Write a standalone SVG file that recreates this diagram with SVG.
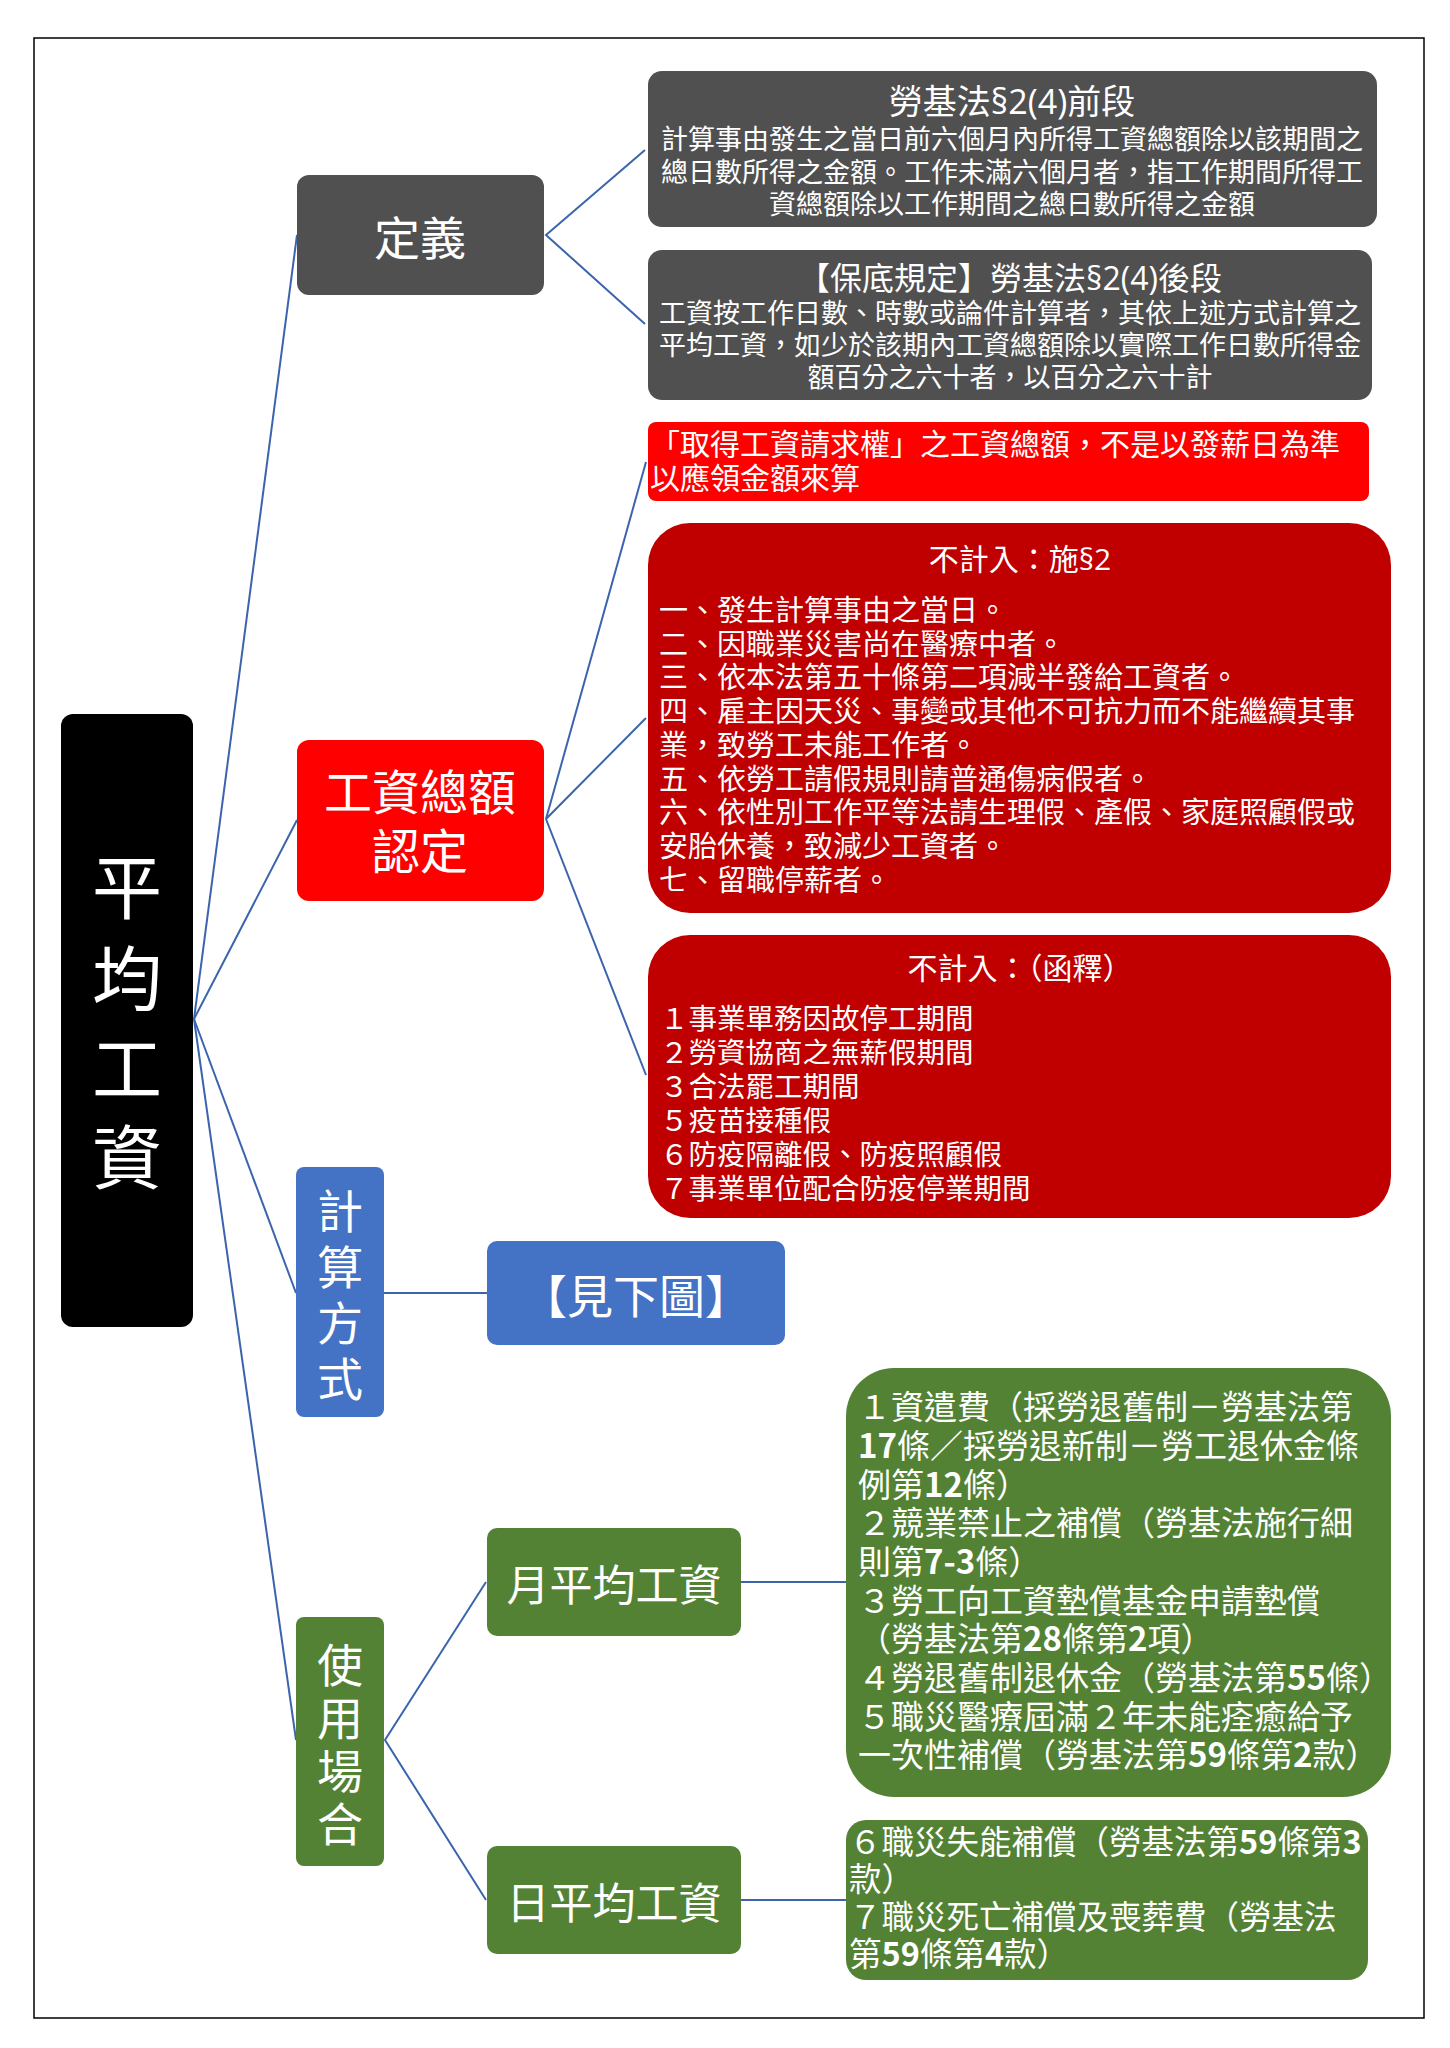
<svg xmlns="http://www.w3.org/2000/svg" width="1450" height="2048" viewBox="0 0 1450 2048">
<style>
text{font-family:"Noto Sans CJK TC","Noto Sans CJK SC",sans-serif;fill:#fff}
.c{text-anchor:middle;dominant-baseline:central}
.m{text-anchor:middle}
.n{font-weight:600}
.l{font-family:"Open Sans","Liberation Sans",sans-serif}
.con{fill:none;stroke:#3B64AD;stroke-width:2}
</style>
<rect x="34" y="38" width="1390" height="1980" fill="#fff" stroke="#000" stroke-width="1.5"/>
<g id="connectors">
<line class="con" x1="194" y1="1019" x2="297" y2="235"/>
<line class="con" x1="194" y1="1019" x2="297" y2="820"/>
<line class="con" x1="194" y1="1019" x2="296" y2="1293"/>
<line class="con" x1="194" y1="1019" x2="296" y2="1740"/>
<polyline class="con" points="645,150 546,235 645,324"/>
<line class="con" x1="546" y1="819" x2="646" y2="462"/>
<line class="con" x1="546" y1="819" x2="646" y2="718"/>
<line class="con" x1="546" y1="819" x2="646" y2="1075"/>
<line class="con" x1="384" y1="1293" x2="487" y2="1293"/>
<polyline class="con" points="486,1582 385,1740 486,1900"/>
<line class="con" x1="741" y1="1582" x2="846" y2="1582"/>
<line class="con" x1="741" y1="1900" x2="846" y2="1900"/>
</g>
<g id="root">
<rect x="61" y="714" width="132" height="613" rx="12" fill="#000"/>
<text class="c" font-size="70"><tspan x="127" y="883">平</tspan><tspan x="127" y="974">均</tspan><tspan x="127" y="1064">工</tspan><tspan x="127" y="1153">資</tspan></text>
</g>
<g id="n-def">
<rect x="297" y="175" width="247" height="120" rx="12" fill="#505050"/>
<text class="c" x="420" y="235" font-size="46">定義</text>
</g>
<g id="n-total">
<rect x="297" y="740" width="247" height="161" rx="12" fill="#FF0000"/>
<text class="c" font-size="48"><tspan x="420" y="789">工資總額</tspan><tspan x="420" y="848">認定</tspan></text>
</g>
<g id="n-calc">
<rect x="296" y="1167" width="88" height="250" rx="8" fill="#4472C4"/>
<text class="c" font-size="46"><tspan x="340" y="1208">計</tspan><tspan x="340" y="1264">算</tspan><tspan x="340" y="1320">方</tspan><tspan x="340" y="1376">式</tspan></text>
</g>
<g id="n-use">
<rect x="296" y="1617" width="88" height="249" rx="8" fill="#548235"/>
<text class="c" font-size="46"><tspan x="340" y="1662">使</tspan><tspan x="340" y="1715">用</tspan><tspan x="340" y="1768">場</tspan><tspan x="340" y="1821">合</tspan></text>
</g>
<g id="n-see">
<rect x="487" y="1241" width="298" height="104" rx="10" fill="#4472C4"/>
<text class="c" x="636" y="1293" font-size="46">【見下圖】</text>
</g>
<g id="n-month">
<rect x="487" y="1528" width="254" height="108" rx="10" fill="#548235"/>
<text class="c" x="614" y="1582" font-size="43">月平均工資</text>
</g>
<g id="n-day">
<rect x="487" y="1846" width="254" height="108" rx="10" fill="#548235"/>
<text class="c" x="614" y="1900" font-size="43">日平均工資</text>
</g>
<g id="n-a">
<rect x="648" y="71" width="729" height="156" rx="14" fill="#505050"/>
<text class="m" font-size="27"><tspan x="1012" y="114" font-size="34">勞基法<tspan class="l">§2(4)</tspan>前段</tspan><tspan x="1012" y="149">計算事由發生之當日前六個月內所得工資總額除以該期間之</tspan><tspan x="1012" y="182">總日數所得之金額。工作未滿六個月者，指工作期間所得工</tspan><tspan x="1012" y="214">資總額除以工作期間之總日數所得之金額</tspan></text>
</g>
<g id="n-b">
<rect x="648" y="250" width="724" height="150" rx="14" fill="#505050"/>
<text class="m" font-size="27"><tspan x="1010" y="290" font-size="32">【保底規定】勞基法<tspan class="l">§2(4)</tspan>後段</tspan><tspan x="1010" y="323">工資按工作日數、時數或論件計算者，其依上述方式計算之</tspan><tspan x="1010" y="355">平均工資，如少於該期內工資總額除以實際工作日數所得金</tspan><tspan x="1010" y="387">額百分之六十者，以百分之六十計</tspan></text>
</g>
<g id="n-c">
<rect x="648" y="422" width="721" height="79" rx="8" fill="#FF0000"/>
<text font-size="30"><tspan x="650" y="455">「取得工資請求權」之工資總額，不是以發薪日為準</tspan><tspan x="650" y="489">以應領金額來算</tspan></text>
</g>
<g id="n-d">
<rect x="648" y="523" width="743" height="390" rx="42" fill="#C00000"/>
<text font-size="29"><tspan x="1020" y="570" font-size="30" text-anchor="middle">不計入：施<tspan class="l">§2</tspan></tspan><tspan x="659" y="621">一、發生計算事由之當日。</tspan><tspan x="659" y="655">二、因職業災害尚在醫療中者。</tspan><tspan x="659" y="688">三、依本法第五十條第二項減半發給工資者。</tspan><tspan x="659" y="722">四、雇主因天災、事變或其他不可抗力而不能繼續其事</tspan><tspan x="659" y="756">業，致勞工未能工作者。</tspan><tspan x="659" y="790">五、依勞工請假規則請普通傷病假者。</tspan><tspan x="659" y="823">六、依性別工作平等法請生理假、產假、家庭照顧假或</tspan><tspan x="659" y="857">安胎休養，致減少工資者。</tspan><tspan x="659" y="891">七、留職停薪者。</tspan></text>
</g>
<g id="n-e">
<rect x="648" y="935" width="743" height="283" rx="42" fill="#C00000"/>
<text font-size="28.5"><tspan x="1020" y="979" font-size="30" text-anchor="middle">不計入：（函釋）</tspan><tspan x="660" y="1029">１事業單務因故停工期間</tspan><tspan x="660" y="1063">２勞資協商之無薪假期間</tspan><tspan x="660" y="1097">３合法罷工期間</tspan><tspan x="660" y="1131">５疫苗接種假</tspan><tspan x="660" y="1165">６防疫隔離假、防疫照顧假</tspan><tspan x="660" y="1199">７事業單位配合防疫停業期間</tspan></text>
</g>
<g id="n-f">
<rect x="846" y="1368" width="545" height="429" rx="48" fill="#548235"/>
<text font-size="33"><tspan x="858" y="1419">１資遣費（採勞退舊制－勞基法第</tspan><tspan x="858" y="1458"><tspan class="n">17</tspan>條／採勞退新制－勞工退休金條</tspan><tspan x="858" y="1497">例第<tspan class="n">12</tspan>條）</tspan><tspan x="858" y="1535">２競業禁止之補償（勞基法施行細</tspan><tspan x="858" y="1574">則第<tspan class="n">7-3</tspan>條）</tspan><tspan x="858" y="1613">３勞工向工資墊償基金申請墊償</tspan><tspan x="858" y="1651">（勞基法第<tspan class="n">28</tspan>條第<tspan class="n">2</tspan>項）</tspan><tspan x="858" y="1690">４勞退舊制退休金（勞基法第<tspan class="n">55</tspan>條）</tspan><tspan x="858" y="1729">５職災醫療屆滿２年未能痊癒給予</tspan><tspan x="858" y="1767">一次性補償（勞基法第<tspan class="n">59</tspan>條第<tspan class="n">2</tspan>款）</tspan></text>
</g>
<g id="n-g">
<rect x="846" y="1820" width="522" height="160" rx="20" fill="#548235"/>
<text font-size="32.5"><tspan x="849" y="1854">６職災失能補償（勞基法第<tspan class="n">59</tspan>條第<tspan class="n">3</tspan></tspan><tspan x="849" y="1891">款）</tspan><tspan x="849" y="1929">７職災死亡補償及喪葬費（勞基法</tspan><tspan x="849" y="1966">第<tspan class="n">59</tspan>條第<tspan class="n">4</tspan>款）</tspan></text>
</g>
</svg>
